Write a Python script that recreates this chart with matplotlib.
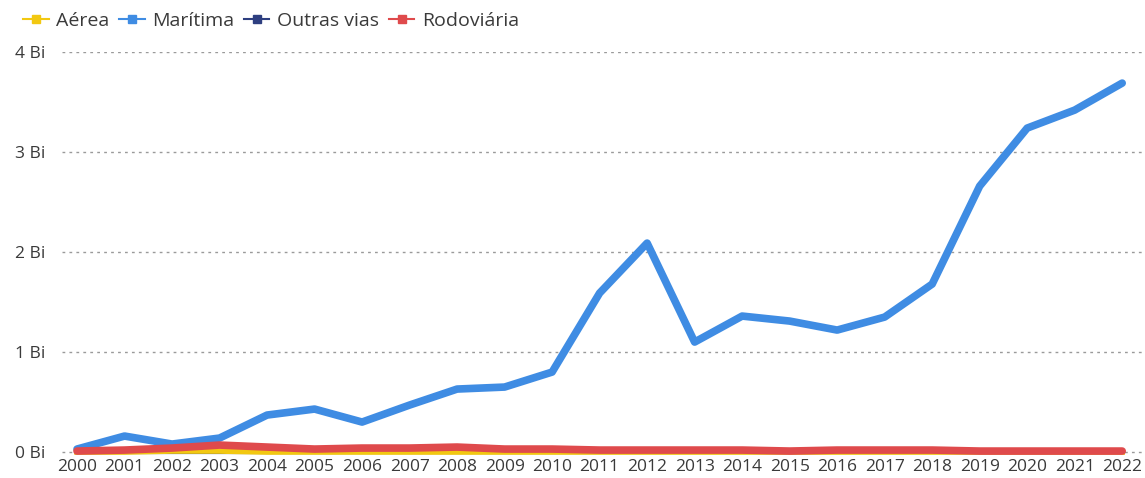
import matplotlib.pyplot as plt
from matplotlib.lines import Line2D

plt.rcParams['font.family'] = ['Open Sans', 'DejaVu Sans']

anos = list(range(2000, 2023))
maritima = [0.03, 0.16, 0.08, 0.14, 0.37, 0.43, 0.30, 0.47, 0.63, 0.65, 0.80,
            1.59, 2.09, 1.10, 1.36, 1.31, 1.22, 1.35, 1.68, 2.66, 3.24, 3.42, 3.69]
rodoviaria = [0.01, 0.02, 0.04, 0.07, 0.05, 0.03, 0.04, 0.04, 0.05, 0.03, 0.03,
              0.02, 0.02, 0.02, 0.02, 0.01, 0.02, 0.02, 0.02, 0.01, 0.01, 0.01, 0.01]
aerea = [0.0, 0.0, 0.01, 0.01, 0.0, 0.0, 0.0, 0.0, 0.0, 0.0, 0.0,
         0.0, 0.0, 0.0, 0.0, 0.0, 0.0, 0.0, 0.0, 0.0, 0.0, 0.0, 0.0]
outras = [0.0] * 23

series = ['Aérea', 'Marítima', 'Outras vias', 'Rodoviária']
cores = ['#F2C811', '#3F8CE3', '#2E3F80', '#DF4A4C']

fig = plt.figure(figsize=(11.45, 4.78), dpi=100)
ax = fig.add_axes([0.054, 0.048, 0.946, 0.843])

ax.plot(anos, maritima, color=cores[1], lw=5.5, solid_capstyle='round', solid_joinstyle='round', zorder=3)
ax.plot(anos, outras, color=cores[2], lw=3, zorder=3)
ax.plot(anos, aerea, color=cores[0], lw=4, zorder=3)
ax.plot(anos, rodoviaria, color=cores[3], lw=5.5, solid_capstyle='round', zorder=4)

ax.set_xlim(1999.68, 2022.48)
ax.set_ylim(-0.03, 4.0)
ax.set_yticks([0, 1, 2, 3, 4])
ax.set_yticklabels(['0 Bi', '1 Bi', '2 Bi', '3 Bi', '4 Bi'])
ax.set_xticks(anos)
ax.set_xticklabels([str(a) for a in anos])
ax.grid(axis='y', linestyle=(0, (2, 3)), color='#9a9a9a', lw=1)
ax.set_axisbelow(True)
for s in ax.spines.values():
    s.set_visible(False)
ax.tick_params(length=0, labelsize=12.5, labelcolor='#3a3a3a')
ax.tick_params(axis='y', pad=12)
ax.tick_params(axis='x', pad=3)

handles = [Line2D([0], [0], color=c, lw=1.5, marker='s', markersize=6) for c in cores]
fig.legend(handles, series, loc='upper left', bbox_to_anchor=(0.005, 1.012), ncol=4,
           frameon=False, fontsize=14, handlelength=1.3, handletextpad=0.4,
           columnspacing=0.5, labelcolor='#3a3a3a')

fig.savefig('out.png', dpi=100)
